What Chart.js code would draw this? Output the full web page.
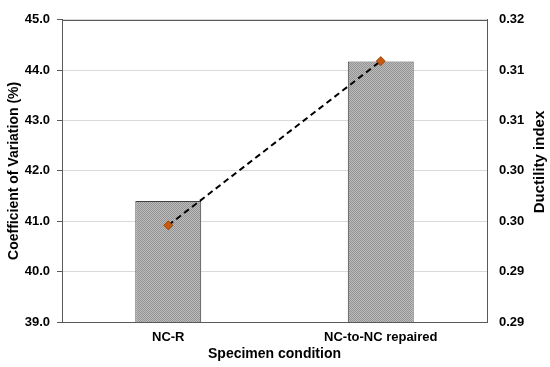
<!DOCTYPE html>
<html><head><meta charset="utf-8">
<script src="https://cdn.jsdelivr.net/npm/chart.js@4/dist/chart.umd.min.js"></script>
<style>html,body{margin:0;padding:0;background:#fff}#wrap{width:550px;height:367px}</style>
</head><body><div id="wrap"><canvas id="c" width="550" height="367"></canvas></div>
<script>
const categories = ['NC-R', 'NC-to-NC repaired'];
const covValues = [41.4, 44.17];
const ductilityValues = [0.2996, 0.3159];
const leftTickLabels = ['39.0','40.0','41.0','42.0','43.0','44.0','45.0'];
const rightTickLabels = ['0.29','0.29','0.30','0.30','0.31','0.31','0.32'];

function makePattern(){
  const p = document.createElement('canvas'); p.width = 2; p.height = 2;
  const g = p.getContext('2d');
  g.fillStyle = '#bdbdbd'; g.fillRect(0,0,2,2);
  g.fillStyle = '#929292'; g.fillRect(0,0,1,1); g.fillRect(1,1,1,1);
  return document.getElementById('c').getContext('2d').createPattern(p,'repeat');
}
const F = 'Liberation Sans, Arial, sans-serif';
const borderBox = { id:'borderBox', afterDatasetsDraw(chart){
  const a=chart.chartArea, ctx=chart.ctx; ctx.save(); ctx.strokeStyle='#595959'; ctx.lineWidth=1;
  ctx.strokeRect(Math.round(a.left)+0.5, Math.round(a.top)+0.5, Math.round(a.right-a.left), Math.round(a.bottom-a.top));
  ctx.translate(540, 162); ctx.rotate(-Math.PI/2); ctx.fillStyle='#000'; ctx.font='bold 15px '+F; ctx.textAlign='center'; ctx.textBaseline='middle';
  ctx.fillText('Ductility index', 0, 0); ctx.restore(); } };
new Chart(document.getElementById('c'), {
  data: {
    labels: categories,
    datasets: [
      { type:'line', data: ductilityValues, yAxisID:'y2', borderColor:'#000', borderWidth:2, borderDash:[6,4], pointStyle:'rectRot', pointRadius:4.5, pointBackgroundColor:'#c55a11', pointBorderColor:'#a0460a', pointBorderWidth:1, order:0 },
      { type:'bar', data: covValues, yAxisID:'y', backgroundColor: makePattern(), borderColor:'#404040', borderWidth:1, barPercentage:0.31, categoryPercentage:1, order:1 }
    ]
  },
  options: {
    responsive:false, animation:false, devicePixelRatio:1,
    layout:{ padding:{ left:0, right:0, top:10, bottom:0 } },
    plugins:{ legend:{display:false}, tooltip:{enabled:false} },
    scales:{
      x:{ grid:{display:false, drawTicks:false, tickLength:0}, border:{color:'#595959'}, ticks:{ color:'#000', font:{family:F, size:13, weight:'bold'}, padding:8 },
          afterFit:(s)=>{ s.height = 45; },
          title:{ display:true, text:'Specimen condition', color:'#000', font:{family:F, size:14, weight:'bold'}, padding:{top:0,bottom:4} } },
      y:{ position:'left', min:39, max:45, afterFit:(s)=>{ s.width = 62; },
          ticks:{ stepSize:1, color:'#000', font:{family:F, size:13, weight:'bold'}, padding:7, callback:(v,i)=>leftTickLabels[i] },
          grid:{ color:'#d9d9d9', tickColor:'#595959', tickLength:5 }, border:{color:'#595959'},
          title:{ display:true, text:'Coefficient of Variation (%)', color:'#000', font:{family:F, size:14, weight:'bold'}, padding:{top:6,bottom:0} } },
      y2:{ position:'right', min:0.29, max:0.32, afterFit:(s)=>{ s.width = 63; },
          ticks:{ stepSize:0.005, color:'#000', font:{family:F, size:13, weight:'bold'}, padding:12, callback:(v,i)=>rightTickLabels[i] },
          grid:{ display:false, drawOnChartArea:false, drawTicks:false, tickLength:0 }, border:{color:'#595959'} }
    }
  },
  plugins:[borderBox]
});
</script></body></html>
